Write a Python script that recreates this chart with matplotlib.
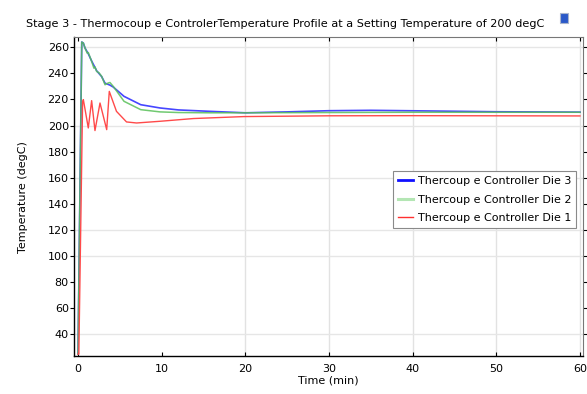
import matplotlib
matplotlib.use("Agg")
import matplotlib.pyplot as plt
from matplotlib.patches import Rectangle

# time (min) and temperature (degC)
t_die3 = [0, 0.45, 0.64, 0.84, 1.23, 1.63, 2.03, 2.23, 2.83, 3.23, 3.82, 4.22,
          5.5, 7.5, 9.8, 12, 15.8, 20, 25, 30, 35, 42, 50, 60]
T_die3 = [25, 264, 263.2, 259.4, 255.0, 249.5, 244.5, 242.0, 237.5, 232.5, 231.0, 229.5,
          222.4, 216.0, 213.5, 212.0, 210.9, 209.8, 210.5, 211.4, 211.7, 211.2, 210.6, 210.3]

t_die2 = [0, 0.45, 0.64, 0.84, 1.1, 1.23, 1.63, 1.9, 2.03, 2.23, 2.5, 2.83, 3.23, 3.6, 3.82, 4.22,
          5.5, 7.5, 9.8, 12, 15.8, 20, 30, 40, 60]
T_die2 = [25, 264, 263.2, 259.4, 255.5, 256.0, 249.2, 244.0, 245.0, 241.5, 240.5, 237.7, 231.3, 232.6, 233.0, 230.0,
          218.6, 212.2, 210.5, 210.0, 209.8, 209.8, 210.0, 210.2, 210.2]

t_die1 = [0, 0.1, 0.55, 0.64, 1.23, 1.63, 2.03, 2.63, 3.43, 3.74, 4.6, 5.8, 7.0,
          9.8, 13.8, 19.8, 30, 40, 60]
T_die1 = [25, 25, 218, 219.9, 198.2, 219.1, 196.2, 217.3, 196.9, 226.2, 210.9, 202.8, 202.0,
          203.3, 205.4, 206.9, 207.5, 207.6, 207.4]

labels = ["Thercoup e Controller Die 3", "Thercoup e Controller Die 2", "Thercoup e Controller Die 1"]

fig = plt.figure(figsize=(5.87, 3.94), dpi=100)
ax = fig.add_axes([0.1266, 0.0964, 0.8666, 0.8085])

# light grid lines (as visible in the reference)
for gx in [20, 30, 40, 50, 60]:
    ax.axvline(gx, color="#e2e2e2", linewidth=1, zorder=0)
for gy in [40, 100, 120, 160, 200, 260]:
    ax.axhline(gy, color="#e6e6e6", linewidth=1, zorder=0)

ax.plot(t_die3, T_die3, color="#4646ff", linewidth=1.2, zorder=2)
ax.plot(t_die2, T_die2, color="#58c058", linewidth=1.1, alpha=0.85, zorder=3)
ax.plot(t_die1, T_die1, color="#ff4a4a", linewidth=1.0, zorder=4)

# legend handles styled as in the reference
h3, = ax.plot([], [], color="#1010ff", linewidth=2)
h2, = ax.plot([], [], color="#b4e6b4", linewidth=2.2)
h1, = ax.plot([], [], color="#ff3030", linewidth=1)
leg = ax.legend([h3, h2, h1], labels, loc="upper right", bbox_to_anchor=(0.998, 0.5975),
                fontsize=8, fancybox=False, framealpha=1, edgecolor="#8a8a8a",
                handlelength=1.4, handletextpad=0.4, labelspacing=0.75, borderpad=0.45)
leg.get_frame().set_linewidth(0.8)

ax.set_xlim(-0.44, 60.36)
ax.set_ylim(23.5, 267.5)
ax.set_xticks(range(0, 61, 10))
ax.set_yticks(range(40, 261, 20))
ax.tick_params(axis="y", which="both", direction="out", length=3, labelsize=8, pad=1,
               right=True)
ax.tick_params(axis="x", which="both", direction="in", length=3, labelsize=8, pad=6,
               top=True)
for side in ["left", "bottom"]:
    ax.spines[side].set_linewidth(1)
for side in ["top", "right"]:
    ax.spines[side].set_color("#777777")

ax.set_xlabel("Time (min)", fontsize=8, labelpad=1)
ax.set_ylabel("Temperature (degC)", fontsize=8, labelpad=14)

fig.text(25.5 / 587, 1 - 24 / 394,
         "Stage 3 - Thermocoup e ControlerTemperature Profile at a Setting Temperature of 200 degC",
         fontsize=8.1, ha="left", va="center")

# small icon at the top right corner
fig.patches.append(Rectangle((560 / 587, 1 - 23 / 394), 8 / 587, 10 / 394,
                             transform=fig.transFigure, facecolor="#2a58c8",
                             edgecolor="#a8b4cc", linewidth=0.8))

fig.savefig("out.png", dpi=100)
